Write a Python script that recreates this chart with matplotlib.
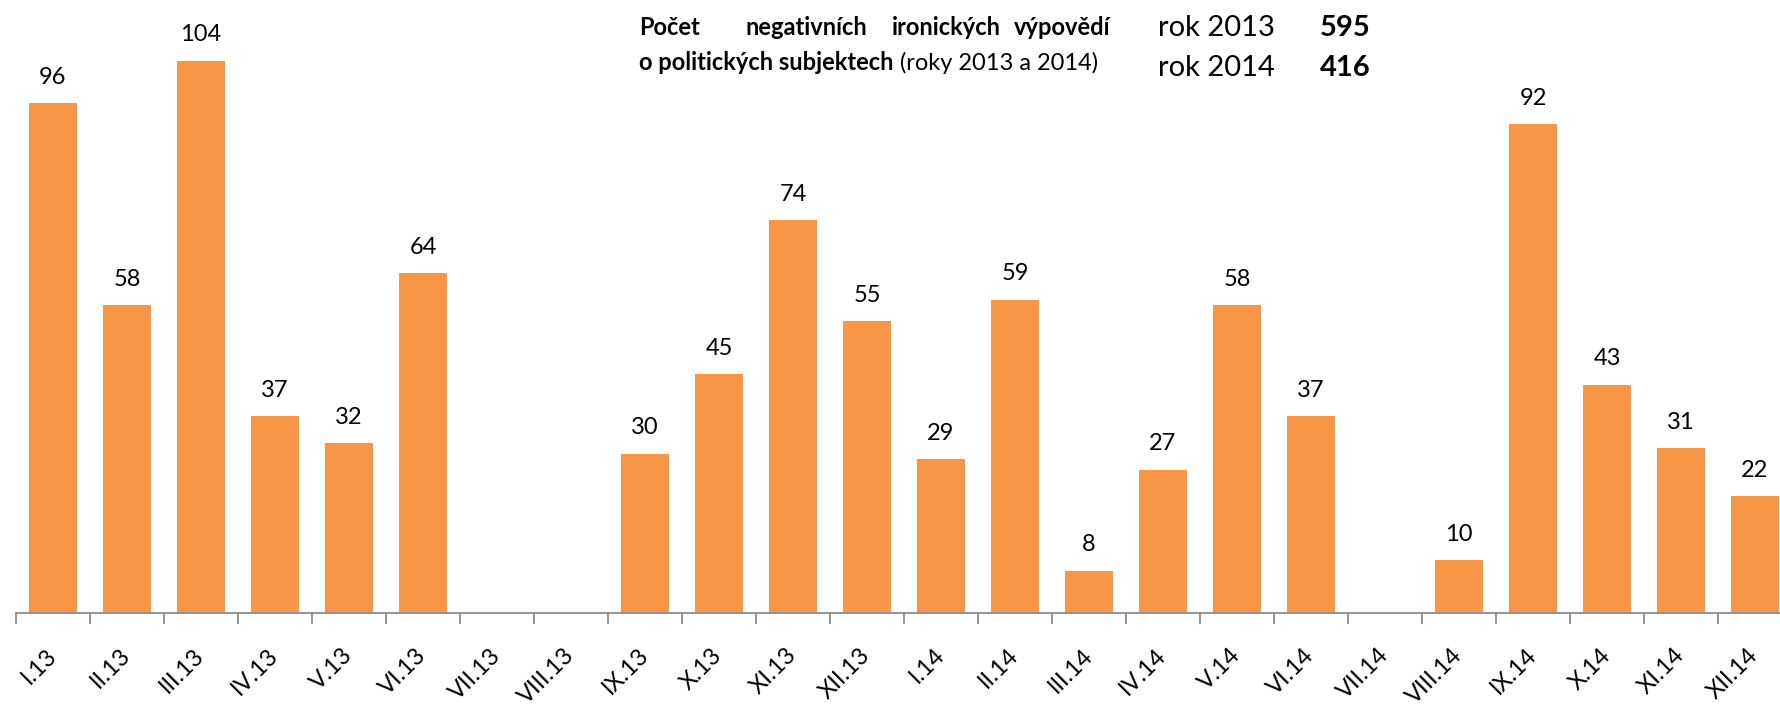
import matplotlib.pyplot as plt
import numpy as np

plt.rcParams["font.family"] = ["Lato", "DejaVu Sans"]

mesice = ["I.13", "II.13", "III.13", "IV.13", "V.13", "VI.13", "VII.13", "VIII.13",
          "IX.13", "X.13", "XI.13", "XII.13", "I.14", "II.14", "III.14", "IV.14",
          "V.14", "VI.14", "VII.14", "VIII.14", "IX.14", "X.14", "XI.14", "XII.14"]
hodnoty = [96, 58, 104, 37, 32, 64, None, None,
           30, 45, 74, 55, 29, 59, 8, 27,
           58, 37, None, 10, 92, 43, 31, 22]
rok_2013 = 595
rok_2014 = 416

ORANGE = "#F79646"
W, H = 1780, 704


def main():
    fig = plt.figure(figsize=(W / 100, H / 100), dpi=100)
    ax = fig.add_axes([16 / W, 91 / H, 1776 / W, 613 / H])

    x = np.arange(len(mesice))
    vyska = [0 if v is None else v for v in hodnoty]
    ax.bar(x, vyska, width=0.66, color=ORANGE)
    for xi, v in zip(x, hodnoty):
        if v is None:
            continue
        ax.annotate(str(v), (xi, v), xytext=(0, 11), textcoords="offset points",
                    ha="center", va="bottom", fontsize=17)

    ax.set_xlim(-0.5, len(mesice) - 0.5)
    ax.set_ylim(0, 115.4)

    for s in ["top", "right", "left"]:
        ax.spines[s].set_visible(False)
    ax.spines["bottom"].set_color("#8c8c8c")
    ax.spines["bottom"].set_linewidth(1.3)
    ax.set_yticks([])

    # popisky mesicu na hlavnich tickach, carky mezi kategoriemi jako minor ticky
    ax.set_xticks(x)
    ax.set_xticklabels(mesice, fontsize=17)
    ax.tick_params(axis="x", which="major", length=0, pad=28)
    plt.setp(ax.get_xticklabels(), rotation=45, ha="right", va="center",
             rotation_mode="anchor")
    ax.set_xticks(np.arange(len(mesice) + 1) - 0.5, minor=True)
    ax.tick_params(axis="x", which="minor", length=8, width=1.3, color="#8c8c8c")

    # popisek nahore
    y1 = 1 - 35 / H
    y2 = 1 - 70 / H
    fs = 17
    fig.text(639 / W, y1, "Počet", fontsize=fs, fontweight="bold", ha="left", va="baseline")
    fig.text(806 / W, y1, "negativních", fontsize=fs, fontweight="bold", ha="center", va="baseline")
    fig.text(946 / W, y1, "ironických", fontsize=fs, fontweight="bold", ha="center", va="baseline")
    fig.text(1110 / W, y1, "výpovědí", fontsize=fs, fontweight="bold", ha="right", va="baseline")
    t = fig.text(639 / W, y2, "o politických subjektech", fontsize=fs, fontweight="bold",
                 ha="left", va="baseline")
    ax.annotate(" (roky 2013 a 2014)", xy=(1, 0), xycoords=t, fontsize=fs,
                ha="left", va="bottom", annotation_clip=False)

    fig.text(1158 / W, 1 - 36 / H, "rok 2013", fontsize=21, va="baseline")
    fig.text(1158 / W, 1 - 76 / H, "rok 2014", fontsize=21, va="baseline")
    fig.text(1320 / W, 1 - 36 / H, str(rok_2013), fontsize=21, fontweight="bold", va="baseline")
    fig.text(1320 / W, 1 - 76 / H, str(rok_2014), fontsize=21, fontweight="bold", va="baseline")

    fig.savefig("out.png", dpi=100)


if __name__ == "__main__":
    main()
